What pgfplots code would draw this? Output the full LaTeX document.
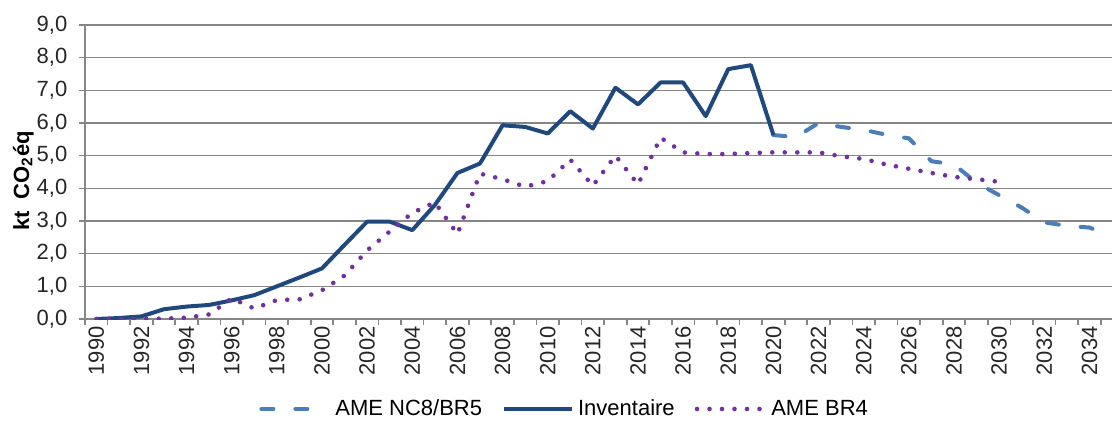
\documentclass[border=0pt]{standalone}
\usepackage{pgfplots}
\pgfplotsset{compat=1.18}
\usepackage{fontspec}
\setmainfont{Liberation Sans}

\definecolor{invcol}{RGB}{31,73,125}
\definecolor{amecol}{RGB}{74,126,187}
\definecolor{brcol}{RGB}{112,48,160}
\definecolor{gridgray}{RGB}{134,134,134}

\begin{document}
\begin{tikzpicture}
\useasboundingbox (-42.5pt,-52pt) rectangle (513.5pt,159.5pt);
\begin{axis}[
  at={(0pt,0pt)}, anchor=south west,
  scale only axis, width=513.5pt, height=147pt,
  xmin=1989.5, xmax=2035, ymin=0, ymax=9,
  axis x line*=bottom, axis y line*=left,
  axis line style={-, draw=gridgray, line width=0.8pt},
  ymajorgrids, grid style={gridgray, line width=0.8pt},
  tick align=outside,
  xtick={1990,1992,...,2034},
  minor xtick={1989.5,1990.5,...,2034.5},
  major x tick style={draw=none},
  minor x tick style={gridgray, line width=0.8pt},
  minor tick length=3pt, major tick length=3pt,
  ytick={0,1,...,9},
  yticklabels={{0,0},{1,0},{2,0},{3,0},{4,0},{5,0},{6,0},{7,0},{8,0},{9,0}},
  ytick style={gridgray, line width=0.8pt},
  /pgf/number format/.cd, 1000 sep={}, assume math mode=true, /pgfplots/.cd,
  tick label style={font=\fontsize{11}{13}\selectfont, text=black!85},
  xticklabel style={rotate=90, anchor=east, inner sep=0.5pt},
  yticklabel style={xshift=-2.3pt},
  ylabel={\bfseries kt\ \ CO\textsubscript{2}éq},
  ylabel style={at={(axis description cs:-0.06,0.47)}, anchor=center, font=\fontsize{11}{13}\selectfont},
  legend columns=3,
  legend cell align=left,
  legend image code/.code={\draw[#1] (0pt,0pt) -- (34pt,0pt);},
  legend style={at={(axis description cs:0.468,-0.306)}, anchor=center, draw=none, fill=none,
    font=\fontsize{11}{13}\selectfont,
    /tikz/every even column/.append style={column sep=8pt}},
]
\addplot[amecol, line width=2pt, line cap=round, dash pattern=on 6pt off 11pt] coordinates {
  (2020,5.63) (2021,5.57) (2022,6.00) (2023,5.88) (2024,5.79) (2025,5.64)
  (2026,5.53) (2027,4.83) (2028,4.73) (2029,4.17) (2030,3.79) (2031,3.41)
  (2032,2.96) (2033,2.85) (2034,2.80) (2035,2.52)
};
\addlegendentry{AME NC8/BR5}
\addplot[invcol, line width=2pt, line join=round] coordinates {
  (1990,0.00) (1991,0.03) (1992,0.08) (1993,0.30) (1994,0.38) (1995,0.43)
  (1996,0.57) (1997,0.73) (1998,1.00) (1999,1.27) (2000,1.55) (2001,2.27)
  (2002,2.98) (2003,2.98) (2004,2.72) (2005,3.49) (2006,4.47) (2007,4.76)
  (2008,5.93) (2009,5.88) (2010,5.68) (2011,6.36) (2012,5.83) (2013,7.08)
  (2014,6.57) (2015,7.24) (2016,7.24) (2017,6.21) (2018,7.65) (2019,7.77)
  (2020,5.63)
};
\addlegendentry{Inventaire}
\addplot[brcol, line width=2.3pt, line cap=round, dash pattern=on 0pt off 6.25pt] coordinates {
  (1990,0.00) (1991,0.00) (1992,0.00) (1993,0.01) (1994,0.04) (1995,0.14)
  (1996,0.63) (1997,0.32) (1998,0.58) (1999,0.60) (2000,0.88) (2001,1.33)
  (2002,2.10) (2003,2.68) (2004,3.25) (2005,3.57) (2006,2.60) (2007,4.45)
  (2008,4.28) (2009,4.05) (2010,4.22) (2011,4.88) (2012,4.08) (2013,5.00)
  (2014,4.12) (2015,5.55) (2016,5.10) (2017,5.05) (2018,5.05) (2019,5.08)
  (2020,5.10) (2021,5.10) (2022,5.10) (2023,4.98) (2024,4.90) (2025,4.73)
  (2026,4.60) (2027,4.47) (2028,4.35) (2029,4.28) (2030,4.20)
};
\addlegendentry{AME BR4}
\end{axis}
\end{tikzpicture}
\end{document}
